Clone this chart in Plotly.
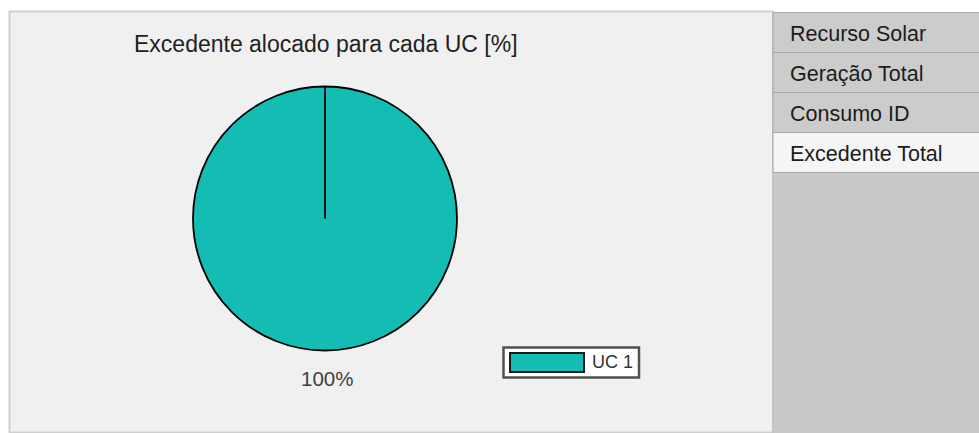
import plotly.graph_objects as go

# ---- data ----
labels = ["UC 1"]
values = [100.0]
slice_colors = ["#14bdb3"]
title_text = "Excedente alocado para cada UC [%]"
tabs = ["Recurso Solar", "Geração Total", "Consumo ID", "Excedente Total"]
active_tab = "Excedente Total"

# ---- canvas geometry (pixels) ----
W, H = 979, 433
FONT = "Arial, Liberation Sans, sans-serif"


def fx(x):
    return x / W


def fy(y):
    return 1 - y / H


# pie placement
cx, cy, r = 325, 218.5, 132
dom_x = [fx(cx - r), fx(cx + r)]
dom_y = [fy(cy + r), fy(cy - r)]

fig = go.Figure()
fig.add_trace(go.Pie(
    labels=labels,
    values=values,
    sort=False,
    direction="clockwise",
    rotation=0,
    marker=dict(colors=slice_colors, line=dict(color="#000000", width=1.8)),
    textinfo="none",
    domain=dict(x=dom_x, y=dom_y),
    showlegend=False,
    hoverinfo="label+percent",
))

shapes = []
annotations = []

# outer panel
shapes.append(dict(type="rect", xref="paper", yref="paper",
                   x0=fx(9.5), x1=fx(773), y0=fy(432.5), y1=fy(11.5),
                   fillcolor="#f0f0f0", line=dict(color="#cfcfcf", width=2),
                   layer="below"))
# tab column
tab_top, tab_h, tab_x0 = 12.5, 40, 773
shapes.append(dict(type="rect", xref="paper", yref="paper",
                   x0=fx(tab_x0), x1=fx(W + 2), y0=fy(H + 2), y1=fy(tab_top),
                   fillcolor="#c9c9c9", line=dict(color="#bdbdbd", width=1),
                   layer="below"))
for i, name in enumerate(tabs):
    y0 = tab_top + i * tab_h
    y1 = y0 + tab_h
    active = name == active_tab
    shapes.append(dict(type="rect", xref="paper", yref="paper",
                       x0=fx(tab_x0), x1=fx(W + 2), y0=fy(y1), y1=fy(y0),
                       fillcolor="#f5f5f5" if active else "#cccccc",
                       line=dict(color="#a9a9a9", width=1), layer="below"))
    annotations.append(dict(x=fx(788), y=fy((y0 + y1) / 2 + 1.5), xref="paper", yref="paper",
                            text=name, showarrow=False, xanchor="left", yanchor="middle",
                            font=dict(family=FONT, size=21.5, color="#1c1c1c")))

# boundary of the single slice, from the pie centre to its start angle
shapes.append(dict(type="line", xref="paper", yref="paper",
                   x0=fx(cx), x1=fx(cx), y0=fy(cy), y1=fy(cy - r),
                   line=dict(color="#000000", width=1.8), layer="above"))

# percentage label under the pie
pct = values[0] / sum(values)
annotations.append(dict(x=fx(cx + 2), y=fy(378.5), xref="paper", yref="paper",
                        text=f"{pct:.0%}", showarrow=False, xanchor="center", yanchor="middle",
                        font=dict(family=FONT, size=20.5, color="#404040")))

# legend box
lx0, ly0, lx1, ly1 = 503.5, 347.5, 639, 377.5
shapes.append(dict(type="rect", xref="paper", yref="paper",
                   x0=fx(lx0), x1=fx(lx1), y0=fy(ly1), y1=fy(ly0),
                   fillcolor="#ffffff", line=dict(color="#505050", width=2.5), layer="above"))
shapes.append(dict(type="rect", xref="paper", yref="paper",
                   x0=fx(510), x1=fx(584), y0=fy(372), y1=fy(353),
                   fillcolor=slice_colors[0], line=dict(color="#1a1a1a", width=2), layer="above"))
annotations.append(dict(x=fx(590), y=fy(362), xref="paper", yref="paper",
                        text=labels[0], showarrow=False, xanchor="left", yanchor="middle",
                        font=dict(family=FONT, size=18, color="#333333")))

# chart title
annotations.append(dict(x=fx(cx + 0.5), y=fy(44), xref="paper", yref="paper",
                        text=title_text, showarrow=False, xanchor="center", yanchor="middle",
                        font=dict(family=FONT, size=23, color="#222222")))

fig.update_layout(
    width=W, height=H,
    margin=dict(l=0, r=0, t=0, b=0),
    paper_bgcolor="#ffffff",
    plot_bgcolor="#ffffff",
    shapes=shapes,
    annotations=annotations,
    showlegend=False,
)

fig.write_html("out.html", config={"displayModeBar": False})
